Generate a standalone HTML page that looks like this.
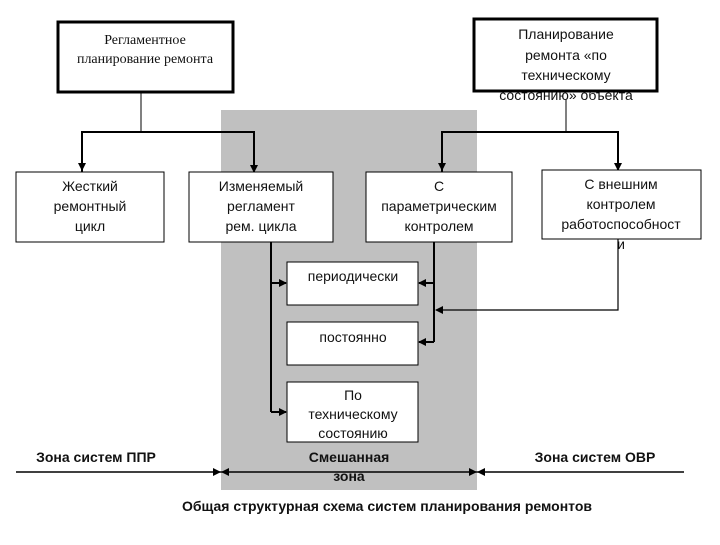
<!DOCTYPE html>
<html><head><meta charset="utf-8"><style>
body{margin:0;width:720px;height:540px;background:#fff;overflow:hidden}
svg text{font-family:"Liberation Sans",sans-serif;font-size:14px;fill:#111}
</style></head><body>
<svg width="720" height="540" viewBox="0 0 720 540" xmlns="http://www.w3.org/2000/svg">
<defs>
<marker id="a" markerWidth="8" markerHeight="8" refX="7" refY="4" orient="auto" markerUnits="userSpaceOnUse"><path d="M0,0 L8,4 L0,8 z" fill="#000"/></marker>
</defs>
<rect x="221" y="110" width="256" height="380" fill="#c0c0c0"/>
<!-- top boxes -->
<rect x="58" y="22" width="175" height="70" fill="#fff" stroke="#000" stroke-width="3"/>
<text x="145" y="44" text-anchor="middle" style="font-family:'Liberation Serif',serif;font-size:14px">Регламентное</text>
<text x="145" y="63" text-anchor="middle" style="font-family:'Liberation Serif',serif;font-size:14px">планирование ремонта</text>
<rect x="474" y="19" width="183" height="72" fill="#fff" stroke="#000" stroke-width="3"/>
<text x="566" y="39" text-anchor="middle">Планирование</text>
<text x="566" y="60" text-anchor="middle">ремонта  «по</text>
<text x="566" y="80" text-anchor="middle">техническому</text>
<text x="566" y="100" text-anchor="middle">состоянию» объекта</text>
<rect x="474" y="19" width="183" height="72" fill="none" stroke="#000" stroke-width="3"/>
<!-- connectors top -->
<g stroke="#000" fill="none">
<line x1="141" y1="92" x2="141" y2="132" stroke-width="1"/>
<polyline points="82,172 82,132 254,132 254,172" stroke-width="2" marker-end="url(#a)"/>
<line x1="82" y1="132" x2="82" y2="170" stroke-width="2" marker-end="url(#a)"/>
<line x1="566" y1="100" x2="566" y2="132" stroke-width="1"/>
<polyline points="442,172 442,132 618,132 618,170" stroke-width="2" marker-end="url(#a)"/>
<line x1="442" y1="132" x2="442" y2="170" stroke-width="2" marker-end="url(#a)"/>
</g>
<!-- row2 -->
<g fill="#fff" stroke="#000" stroke-width="1">
<rect x="16" y="172" width="148" height="70"/>
<rect x="189" y="172" width="144" height="70"/>
<rect x="366" y="172" width="146" height="70"/>
<rect x="542" y="170" width="159" height="69"/>
</g>
<text x="90" y="191" text-anchor="middle">Жесткий</text>
<text x="90" y="211" text-anchor="middle">ремонтный</text>
<text x="90" y="231" text-anchor="middle">цикл</text>
<text x="261" y="191" text-anchor="middle">Изменяемый</text>
<text x="261" y="211" text-anchor="middle">регламент</text>
<text x="261" y="231" text-anchor="middle">рем. цикла</text>
<text x="439" y="191" text-anchor="middle">С</text>
<text x="439" y="211" text-anchor="middle">параметрическим</text>
<text x="439" y="231" text-anchor="middle">контролем</text>
<text x="621" y="189" text-anchor="middle">С внешним</text>
<text x="621" y="209" text-anchor="middle">контролем</text>
<text x="621" y="229" text-anchor="middle">работоспособност</text>
<text x="621" y="249" text-anchor="middle">и</text>
<!-- small boxes -->
<g fill="#fff" stroke="#000" stroke-width="1">
<rect x="287" y="262" width="131" height="43"/>
<rect x="287" y="322" width="131" height="43"/>
<rect x="287" y="382" width="131" height="60"/>
</g>
<text x="353" y="281" text-anchor="middle">периодически</text>
<text x="353" y="342" text-anchor="middle" font-size="13">постоянно</text>
<text x="353" y="400" text-anchor="middle">По</text>
<text x="353" y="419" text-anchor="middle">техническому</text>
<text x="353" y="438" text-anchor="middle">состоянию</text>
<g stroke="#000" fill="none" stroke-width="2">
<line x1="271" y1="242" x2="271" y2="412"/>
<line x1="271" y1="283" x2="286" y2="283" marker-end="url(#a)"/>
<line x1="271" y1="412" x2="286" y2="412" marker-end="url(#a)"/>
<line x1="434" y1="242" x2="434" y2="342"/>
<line x1="434" y1="283" x2="419" y2="283" marker-end="url(#a)"/>
<line x1="434" y1="342" x2="419" y2="342" marker-end="url(#a)"/>
</g>
<polyline points="618,239 618,310 436,310" stroke="#000" fill="none" stroke-width="1.2" marker-end="url(#a)"/>
<!-- bottom -->
<line x1="16" y1="472" x2="684" y2="472" stroke="#000" stroke-width="1.5"/>
<path d="M213,468 L221,472 L213,476z M229,468 L221,472 L229,476z M469,468 L477,472 L469,476z M485,468 L477,472 L485,476z" fill="#000"/>
<g style="font-weight:bold">
<text x="96" y="462" text-anchor="middle" font-weight="bold">Зона систем ППР</text>
<text x="349" y="462" text-anchor="middle" font-weight="bold">Смешанная</text>
<text x="349" y="481" text-anchor="middle" font-weight="bold">зона</text>
<text x="595" y="462" text-anchor="middle" font-weight="bold">Зона систем ОВР</text>
<text x="387" y="511" text-anchor="middle" font-weight="bold">Общая структурная схема систем планирования ремонтов</text>
</g>
</svg>
</body></html>
